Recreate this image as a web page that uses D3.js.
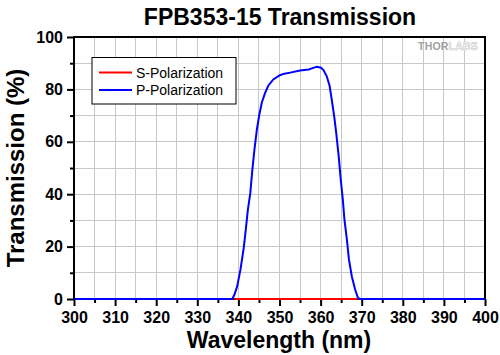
<!DOCTYPE html>
<html>
<head>
<meta charset="utf-8">
<script src="https://cdn.jsdelivr.net/npm/d3@7"></script>
<style>
  html, body { margin: 0; padding: 0; background: #fff; }
  svg { display: block; font-family: "Liberation Sans", Arial, sans-serif; }
</style>
</head>
<body>
<svg id="chart" width="500" height="355"></svg>
<script>
// ---- data ----
const pWavelength = [300, 338.5, 339.0, 339.7, 340.5, 341.3, 341.8, 342.3, 342.9, 343.4, 343.9, 344.5, 345.1, 345.7, 346.5, 347.3, 348.5, 350.1, 351.2, 352.6, 355.0, 357.1, 358.4, 359.1, 360.1, 360.7, 361.5, 362.2, 362.7, 363.3, 363.8, 364.4, 364.9, 365.4, 365.8, 366.4, 366.9, 367.6, 368.4, 369.1, 369.6, 400];
const pTransmission = [0, 0, 1.5, 4.8, 11.2, 19.5, 26.5, 34, 40.5, 49.4, 57, 64.7, 70.4, 75, 78.7, 81.5, 83.8, 85.4, 86, 86.4, 87.2, 87.6, 88.3, 88.6, 88.3, 87.4, 85, 81.3, 76.2, 69.8, 63.4, 54.5, 45.6, 38, 30.3, 22.7, 15, 8.6, 3.6, 0.4, 0, 0];
const sWavelength = [339, 369];
const sTransmission = [0, 0];
const xMajorTicks = [300, 310, 320, 330, 340, 350, 360, 370, 380, 390, 400];
const xMinorTicks = [305, 315, 325, 335, 345, 355, 365, 375, 385, 395];
const yMajorTicks = [0, 20, 40, 60, 80, 100];
const yMinorTicks = [10, 30, 50, 70, 90];
const seriesNames = ["S-Polarization", "P-Polarization"];
const seriesColors = ["#ff0000", "#0000ff"];

// ---- layout ----
const svg = d3.select("#chart");
const L = 74, R = 485, T = 37, B = 299;
const x = d3.scaleLinear().domain([300, 400]).range([L, R]);
const y = d3.scaleLinear().domain([0, 100]).range([B, T]);

// grid
const gridX = xMajorTicks.concat(xMinorTicks);
const gridY = yMajorTicks.concat(yMinorTicks);
svg.append("g").selectAll("line").data(gridX).join("line")
  .attr("x1", d => x(d)).attr("x2", d => x(d)).attr("y1", T).attr("y2", B)
  .attr("stroke", "#c8c8c8").attr("stroke-width", 1).attr("shape-rendering", "crispEdges");
svg.append("g").selectAll("line").data(gridY).join("line")
  .attr("y1", d => y(d)).attr("y2", d => y(d)).attr("x1", L).attr("x2", R)
  .attr("stroke", "#c8c8c8").attr("stroke-width", 1).attr("shape-rendering", "crispEdges");

// logo
const logo = svg.append("text").attr("x", 478).attr("y", 50).attr("text-anchor", "end")
  .attr("font-size", 10.5).attr("font-weight", "bold").attr("letter-spacing", 0.2);
logo.append("tspan").attr("fill", "#a0a0a0").text("THOR");
logo.append("tspan").attr("fill", "#fff").attr("stroke", "#c4c4c4").attr("stroke-width", 0.6).text("LABS");

// axes
const styleAxis = g => {
  g.select(".domain").remove();
  g.selectAll(".tick line").attr("stroke", "#000").attr("stroke-width", 2);
  g.selectAll("text").attr("font-size", 16).attr("font-weight", "bold").attr("fill", "#000")
    .attr("font-family", "Liberation Sans, Arial, sans-serif");
};
svg.append("g").attr("transform", `translate(0,${B})`)
  .call(d3.axisBottom(x).tickValues(xMajorTicks).tickSize(7).tickPadding(6).tickFormat(d3.format("d")))
  .call(styleAxis);
svg.append("g").attr("transform", `translate(0,${B})`)
  .call(d3.axisBottom(x).tickValues(xMinorTicks).tickSize(4).tickFormat(""))
  .call(styleAxis);
svg.append("g").attr("transform", `translate(${L},0)`)
  .call(d3.axisLeft(y).tickValues(yMajorTicks).tickSize(7).tickPadding(4).tickFormat(d3.format("d")))
  .call(styleAxis);
svg.append("g").attr("transform", `translate(${L},0)`)
  .call(d3.axisLeft(y).tickValues(yMinorTicks).tickSize(4).tickFormat(""))
  .call(styleAxis);

// frame
svg.append("rect").attr("x", L).attr("y", T).attr("width", R - L).attr("height", B - T)
  .attr("fill", "none").attr("stroke", "#000").attr("stroke-width", 2);

// lines (drawn over the frame, as in the reference)
const line = d3.line().x(d => x(d[0])).y(d => y(d[1]));
svg.append("path").datum(pWavelength.map((w, i) => [w, pTransmission[i]]))
  .attr("d", line).attr("fill", "none").attr("stroke", seriesColors[1]).attr("stroke-width", 2);
svg.append("path").datum(sWavelength.map((w, i) => [w, sTransmission[i]]))
  .attr("d", line).attr("fill", "none").attr("stroke", seriesColors[0]).attr("stroke-width", 2);

// legend
const lg = svg.append("g");
lg.append("rect").attr("x", 92).attr("y", 57.5).attr("width", 144).attr("height", 46.5)
  .attr("fill", "#fff").attr("stroke", "#000").attr("stroke-width", 1);
seriesNames.forEach((name, i) => {
  const yy = 72.5 + i * 17.5;
  lg.append("line").attr("x1", 99).attr("x2", 132).attr("y1", yy).attr("y2", yy)
    .attr("stroke", seriesColors[i]).attr("stroke-width", 2);
  lg.append("text").attr("x", 136).attr("y", yy + 5).attr("font-size", 14)
    .attr("fill", "#000").text(name);
});

// titles
svg.append("text").attr("x", 280).attr("y", 24.5).attr("text-anchor", "middle")
  .attr("font-size", 23).attr("font-weight", "bold").text("FPB353-15 Transmission");
svg.append("text").attr("x", 279).attr("y", 348).attr("text-anchor", "middle")
  .attr("font-size", 23).attr("font-weight", "bold").text("Wavelength (nm)");
svg.append("text").attr("transform", `translate(24,${(T + B) / 2}) rotate(-90)`)
  .attr("text-anchor", "middle").attr("font-size", 24).attr("font-weight", "bold")
  .text("Transmission (%)");
</script>
</body>
</html>
